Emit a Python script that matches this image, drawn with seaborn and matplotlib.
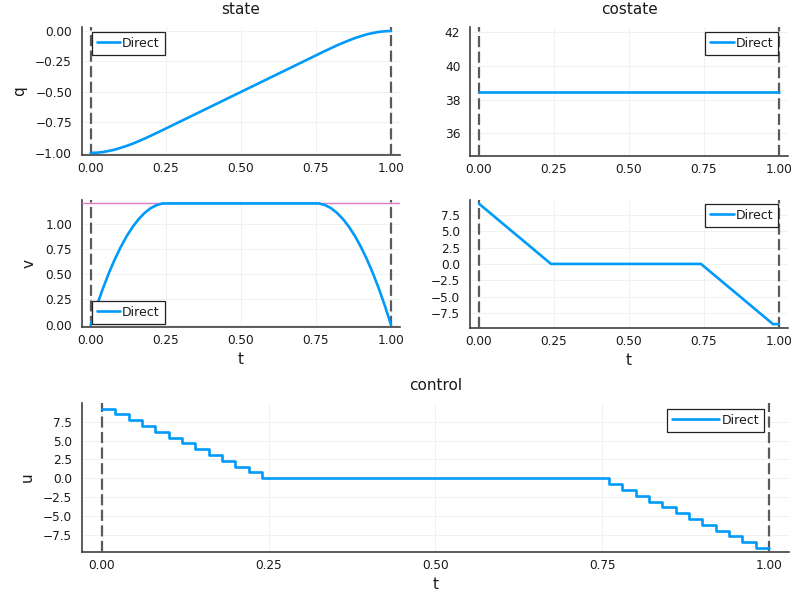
import matplotlib
matplotlib.use("Agg")
import matplotlib.pyplot as plt
import seaborn as sns
import pandas as pd

# ---------------- data ----------------
t = [0.00, 0.02, 0.04, 0.06, 0.08, 0.10, 0.12, 0.14, 0.16, 0.18,
     0.20, 0.22, 0.24, 0.26, 0.28, 0.30, 0.32, 0.34, 0.36, 0.38,
     0.40, 0.42, 0.44, 0.46, 0.48, 0.50, 0.52, 0.54, 0.56, 0.58,
     0.60, 0.62, 0.64, 0.66, 0.68, 0.70, 0.72, 0.74, 0.76, 0.78,
     0.80, 0.82, 0.84, 0.86, 0.88, 0.90, 0.92, 0.94, 0.96, 0.98, 1.00]

q = [-1.000, -0.998, -0.993, -0.984, -0.973, -0.958, -0.942, -0.924, -0.903, -0.882,
     -0.859, -0.836, -0.812, -0.788, -0.764, -0.740, -0.716, -0.692, -0.668, -0.644,
     -0.620, -0.596, -0.572, -0.548, -0.524, -0.500, -0.476, -0.452, -0.428, -0.404,
     -0.380, -0.356, -0.332, -0.308, -0.284, -0.260, -0.236, -0.212, -0.188, -0.164,
     -0.141, -0.118, -0.097, -0.077, -0.058, -0.042, -0.027, -0.016, -0.007, -0.002, 0.000]

v = [0.000, 0.185, 0.354, 0.508, 0.646, 0.769, 0.877, 0.969, 1.046, 1.107,
     1.154, 1.184, 1.200, 1.200, 1.200, 1.200, 1.200, 1.200, 1.200, 1.200,
     1.200, 1.200, 1.200, 1.200, 1.200, 1.200, 1.200, 1.200, 1.200, 1.200,
     1.200, 1.200, 1.200, 1.200, 1.200, 1.200, 1.200, 1.200, 1.200, 1.184,
     1.154, 1.107, 1.046, 0.969, 0.877, 0.769, 0.646, 0.508, 0.354, 0.185, 0.000]

p_q = [38.45, 38.45, 38.45, 38.45, 38.45, 38.45, 38.45, 38.45, 38.45, 38.45,
       38.45, 38.45, 38.45, 38.45, 38.45, 38.45, 38.45, 38.45, 38.45, 38.45,
       38.45, 38.45, 38.45, 38.45, 38.45, 38.45, 38.45, 38.45, 38.45, 38.45,
       38.45, 38.45, 38.45, 38.45, 38.45, 38.45, 38.45, 38.45, 38.45, 38.45,
       38.45, 38.45, 38.45, 38.45, 38.45, 38.45, 38.45, 38.45, 38.45, 38.45, 38.45]

p_v = [9.23, 8.46, 7.69, 6.92, 6.15, 5.38, 4.61, 3.85, 3.08, 2.31,
       1.54, 0.77, 0.00, 0.00, 0.00, 0.00, 0.00, 0.00, 0.00, 0.00,
       0.00, 0.00, 0.00, 0.00, 0.00, 0.00, 0.00, 0.00, 0.00, 0.00,
       0.00, 0.00, 0.00, 0.00, 0.00, 0.00, 0.00, 0.00, -0.77, -1.54,
       -2.31, -3.08, -3.85, -4.61, -5.38, -6.15, -6.92, -7.69, -8.46, -9.23, -9.23]

u = [9.23, 8.46, 7.69, 6.92, 6.15, 5.38, 4.61, 3.85, 3.08, 2.31,
     1.54, 0.77, 0.00, 0.00, 0.00, 0.00, 0.00, 0.00, 0.00, 0.00,
     0.00, 0.00, 0.00, 0.00, 0.00, 0.00, 0.00, 0.00, 0.00, 0.00,
     0.00, 0.00, 0.00, 0.00, 0.00, 0.00, 0.00, 0.00, -0.77, -1.54,
     -2.31, -3.08, -3.85, -4.61, -5.38, -6.15, -6.92, -7.69, -8.46, -9.23, -9.23]

t0, tf = 0.0, 1.0
v_max = 1.2
series_name = "Direct"

x_ticks = [0.0, 0.25, 0.5, 0.75, 1.0]
q_ticks = [-1.0, -0.75, -0.5, -0.25, 0.0]
pq_ticks = [36, 38, 40, 42]
v_ticks = [0.0, 0.25, 0.5, 0.75, 1.0]
pv_ticks = [-7.5, -5.0, -2.5, 0.0, 2.5, 5.0, 7.5]

df = pd.DataFrame({"t": t, "q": q, "v": v, "p_q": p_q, "p_v": p_v, "u": u})

# ---------------- style ----------------
sns.set_theme(style="white")
plt.rcParams["font.family"] = ["DejaVu Sans"]
plt.rcParams["axes.unicode_minus"] = True

BLUE = "#009AFA"
TXT = "#1a1a1a"
fig = plt.figure(figsize=(8, 6), dpi=100)
W, H = 800.0, 600.0


def rect(x0, y0, x1, y1):
    return [x0 / W, 1 - y1 / H, (x1 - x0) / W, (y1 - y0) / H]


ax_q = fig.add_axes(rect(81.7, 27, 400, 155))
ax_pq = fig.add_axes(rect(470, 27, 788, 156))
ax_v = fig.add_axes(rect(81.7, 200, 400, 327))
ax_pv = fig.add_axes(rect(470, 200, 788, 327.7))
ax_u = fig.add_axes(rect(82, 403, 789, 551.7))


def style(ax, yticks, fmt, ylim):
    ax.set_xlim(-0.03, 1.03)
    ax.set_ylim(*ylim)
    ax.set_xticks(x_ticks)
    ax.set_xticklabels([f"{x:.2f}" for x in x_ticks])
    ax.set_yticks(yticks)
    ax.set_yticklabels([fmt.format(y).replace("-", "\u2212") for y in yticks])
    for s in ["top", "right"]:
        ax.spines[s].set_visible(False)
    for s in ["left", "bottom"]:
        ax.spines[s].set_color("#404040")
        ax.spines[s].set_linewidth(1.2)
    ax.tick_params(axis="both", direction="in", length=3, width=0.8,
                   color="#404040", labelsize=8.7, labelcolor=TXT)
    ax.tick_params(axis="y", pad=7)
    ax.tick_params(axis="x", pad=5)
    ax.grid(True, color="#efefef", linewidth=0.6)
    ax.set_axisbelow(True)
    for xv in (t0, tf):
        ax.axvline(xv, color="#5a5a5a", linestyle=(0, (5, 2)), linewidth=1.6, zorder=3)


def lg(ax, loc, anchor, hl=1.85):
    leg = ax.legend(loc=loc, bbox_to_anchor=anchor, fontsize=9, frameon=True, fancybox=False,
                    edgecolor="#222222", framealpha=1.0, borderpad=0.4, handleheight=1.0,
                    handlelength=hl, handletextpad=0.15, borderaxespad=0.0)
    leg.get_frame().set_linewidth(0.9)
    for txt in leg.get_texts():
        txt.set_color(TXT)
    leg.set_zorder(10)


# state q
sns.lineplot(data=df, x="t", y="q", ax=ax_q, color=BLUE, linewidth=1.9, label=series_name, zorder=4)
style(ax_q, q_ticks, "{:.2f}", (-1.017, 0.033))
ax_q.set_title("state", fontsize=11, pad=9, color=TXT)
ax_q.set_xlabel("")
ax_q.set_ylabel("q", fontsize=11, color=TXT, labelpad=6)
lg(ax_q, "upper left", (0.032, 0.961))

# costate p_q
sns.lineplot(data=df, x="t", y="p_q", ax=ax_pq, color=BLUE, linewidth=1.9, label=series_name, zorder=4)
style(ax_pq, pq_ticks, "{:.0f}", (34.65, 42.3))
ax_pq.set_title("costate", fontsize=11, pad=9, color=TXT)
ax_pq.set_xlabel("")
ax_pq.set_ylabel("")
lg(ax_pq, "upper right", (0.9686, 0.961))

# state v
sns.lineplot(data=df, x="t", y="v", ax=ax_v, color=BLUE, linewidth=1.9, label=series_name, zorder=4)
style(ax_v, v_ticks, "{:.2f}", (-0.022, 1.234))
ax_v.axhline(v_max, color="#DD7CC2", linewidth=1.0, zorder=3)
ax_v.set_xlabel("t", fontsize=11, color=TXT)
ax_v.set_ylabel("v", fontsize=11, color=TXT, labelpad=6)
lg(ax_v, "lower left", (0.032, 0.024))

# costate p_v
sns.lineplot(data=df, x="t", y="p_v", ax=ax_pv, color=BLUE, linewidth=1.9, label=series_name, zorder=4)
style(ax_pv, pv_ticks, "{:.1f}", (-9.78, 9.8))
ax_pv.set_xlabel("t", fontsize=11, color=TXT)
ax_pv.set_ylabel("")
lg(ax_pv, "upper right", (0.9686, 0.969))

# control u
sns.lineplot(data=df, x="t", y="u", ax=ax_u, color=BLUE, linewidth=1.9, label=series_name,
             drawstyle="steps-post", zorder=4)
style(ax_u, pv_ticks, "{:.1f}", (-9.72, 9.97))
ax_u.set_title("control", fontsize=11, pad=9, color=TXT)
ax_u.set_xlabel("t", fontsize=11, color=TXT)
ax_u.set_ylabel("u", fontsize=11, color=TXT, labelpad=6)
lg(ax_u, "upper right", (0.9646, 0.96), hl=3.8)

fig.savefig("out.png", dpi=100)
